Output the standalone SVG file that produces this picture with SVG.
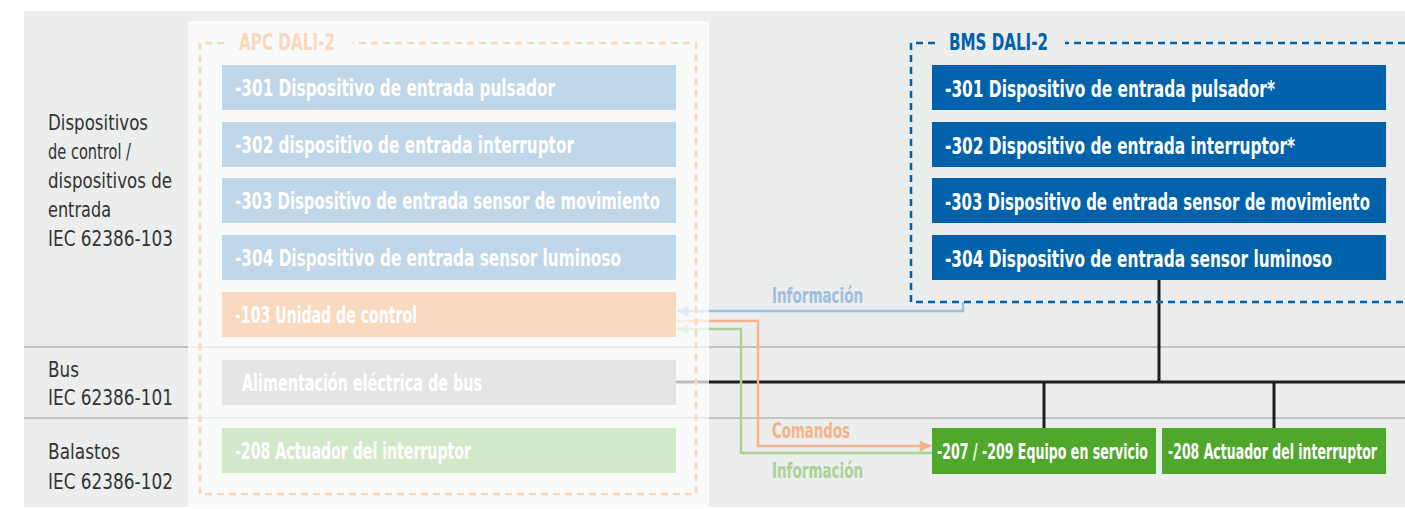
<svg xmlns="http://www.w3.org/2000/svg" width="1405" height="509" viewBox="0 0 1405 509">
<defs>
<style>
.lbl{font-family:"Liberation Sans Narrow","DejaVu Sans Condensed","Liberation Sans",sans-serif;font-stretch:condensed;font-size:21px;fill:#333333}
.bt{font-family:"Liberation Sans Narrow","DejaVu Sans Condensed","Liberation Sans",sans-serif;font-stretch:condensed;font-weight:bold;font-size:23px;fill:#ffffff}
.gt{font-family:"Liberation Sans Narrow","DejaVu Sans Condensed","Liberation Sans",sans-serif;font-stretch:condensed;font-weight:bold;font-size:21px;fill:#ffffff}
.ttl{font-family:"Liberation Sans Narrow","DejaVu Sans Condensed","Liberation Sans",sans-serif;font-stretch:condensed;font-weight:bold;font-size:23px}
.cl{font-family:"Liberation Sans Narrow","DejaVu Sans Condensed","Liberation Sans",sans-serif;font-stretch:condensed;font-weight:bold;font-size:21px}
.lb{fill:#bfd7e9}.db{fill:#0062aa}.gr{fill:#4fa82a}
.row{stroke:#b4b4b4;stroke-width:1.5}
.bus{stroke:#1e1e1e;stroke-width:3;fill:none}
</style>
<marker id="aB" viewBox="0 0 10 10" refX="10" refY="5" markerWidth="7" markerHeight="4.5" markerUnits="strokeWidth" orient="auto"><path d="M0,0 L10,5 L0,10 z" fill="#9dc0de"/></marker>
<marker id="aO" viewBox="0 0 10 10" refX="10" refY="5" markerWidth="7" markerHeight="4.5" markerUnits="strokeWidth" orient="auto"><path d="M0,0 L10,5 L0,10 z" fill="#f2b48a"/></marker>
<marker id="aG" viewBox="0 0 10 10" refX="10" refY="5" markerWidth="7" markerHeight="4.5" markerUnits="strokeWidth" orient="auto"><path d="M0,0 L10,5 L0,10 z" fill="#a8d394"/></marker>
</defs>
<rect x="0" y="0" width="1405" height="509" fill="#ffffff"/>
<rect x="24" y="11" width="1381" height="496" fill="#eceded"/>
<g id="rows">
<line class="row" x1="24" y1="347" x2="1405" y2="347"/>
<line class="row" x1="24" y1="418" x2="1405" y2="418"/>
</g>
<g id="labels">
<text class="lbl" x="48" y="130" textLength="100" lengthAdjust="spacingAndGlyphs">Dispositivos</text>
<text class="lbl" x="48" y="159" textLength="83" lengthAdjust="spacingAndGlyphs">de control /</text>
<text class="lbl" x="48" y="188" textLength="124" lengthAdjust="spacingAndGlyphs">dispositivos de</text>
<text class="lbl" x="48" y="217" textLength="63" lengthAdjust="spacingAndGlyphs">entrada</text>
<text class="lbl" x="48" y="246" textLength="125" lengthAdjust="spacingAndGlyphs">IEC 62386-103</text>
<text class="lbl" x="48" y="377" textLength="31" lengthAdjust="spacingAndGlyphs">Bus</text>
<text class="lbl" x="48" y="405" textLength="125" lengthAdjust="spacingAndGlyphs">IEC 62386-101</text>
<text class="lbl" x="48" y="459" textLength="72" lengthAdjust="spacingAndGlyphs">Balastos</text>
<text class="lbl" x="48" y="489" textLength="125" lengthAdjust="spacingAndGlyphs">IEC 62386-102</text>
</g>
<g id="connectors">
<polyline class="bus" points="676,382 1405,382"/>
<line class="bus" x1="1159" y1="280" x2="1159" y2="382"/>
<line class="bus" x1="1044" y1="382" x2="1044" y2="428"/>
<line class="bus" x1="1274" y1="382" x2="1274" y2="428"/>
<polyline points="963,302 963,311 677,311" fill="none" stroke="#9dc0de" stroke-width="2.5" marker-end="url(#aB)"/>
<polyline points="677,321 758,321 758,446 931,446" fill="none" stroke="#f2b48a" stroke-width="2.5" marker-end="url(#aO)"/>
<polyline points="932,453 741,453 741,329 677,329" fill="none" stroke="#a8d394" stroke-width="2.5" marker-end="url(#aG)"/>
<text class="cl" x="772" y="303" fill="#9dc0de" textLength="91" lengthAdjust="spacingAndGlyphs">Información</text>
<text class="cl" x="772" y="438" fill="#f2b48a" textLength="78" lengthAdjust="spacingAndGlyphs">Comandos</text>
<text class="cl" x="772" y="478" fill="#a8d394" textLength="91" lengthAdjust="spacingAndGlyphs">Información</text>
</g>
<rect x="188" y="21" width="521" height="486" fill="#ffffff" fill-opacity="0.7"/>
<g id="apc">
<path d="M224,43 H200 V494 H696 V43 H353" fill="none" stroke="#f9d9bf" stroke-width="2.5" stroke-dasharray="7,5"/>
<text class="ttl" x="239" y="50" fill="#fad8bd" textLength="96" lengthAdjust="spacingAndGlyphs">APC DALI-2</text>
</g>
<g id="apc-301"><rect class="lb" x="222" y="65" width="454" height="45"/><text class="bt" x="235" y="96" textLength="320" lengthAdjust="spacingAndGlyphs">-301 Dispositivo de entrada pulsador</text></g>
<g id="apc-302"><rect class="lb" x="222" y="122" width="454" height="45"/><text class="bt" x="235" y="153" textLength="339" lengthAdjust="spacingAndGlyphs">-302 dispositivo de entrada interruptor</text></g>
<g id="apc-303"><rect class="lb" x="222" y="178" width="454" height="45"/><text class="bt" x="235" y="209" textLength="425" lengthAdjust="spacingAndGlyphs">-303 Dispositivo de entrada sensor de movimiento</text></g>
<g id="apc-304"><rect class="lb" x="222" y="235" width="454" height="45"/><text class="bt" x="235" y="266" textLength="386" lengthAdjust="spacingAndGlyphs">-304 Dispositivo de entrada sensor luminoso</text></g>
<g id="apc-103"><rect x="222" y="292" width="454" height="45" fill="#f9d9c0"/><text class="bt" x="235" y="323" textLength="182" lengthAdjust="spacingAndGlyphs">-103 Unidad de control</text></g>
<g id="apc-bus"><rect x="222" y="360" width="454" height="45" fill="#e5e5e5"/><text class="bt" x="242" y="391" textLength="240" lengthAdjust="spacingAndGlyphs">Alimentación eléctrica de bus</text></g>
<g id="apc-208"><rect x="222" y="428" width="454" height="45" fill="#d2e9c9"/><text class="bt" x="235" y="459" textLength="236" lengthAdjust="spacingAndGlyphs">-208 Actuador del interruptor</text></g>
<g id="bms">
<path d="M935,43 H911 V302 H1405 M1405,43 H1065" fill="none" stroke="#0062ab" stroke-width="2.5" stroke-dasharray="7,5"/>
<text class="ttl" x="949" y="50" fill="#0062ab" textLength="99" lengthAdjust="spacingAndGlyphs">BMS DALI-2</text>
</g>
<g id="bms-301"><rect class="db" x="932" y="65" width="454" height="45"/><text class="bt" x="945" y="97" textLength="330" lengthAdjust="spacingAndGlyphs">-301 Dispositivo de entrada pulsador*</text></g>
<g id="bms-302"><rect class="db" x="932" y="122" width="454" height="45"/><text class="bt" x="945" y="154" textLength="350" lengthAdjust="spacingAndGlyphs">-302 Dispositivo de entrada interruptor*</text></g>
<g id="bms-303"><rect class="db" x="932" y="178" width="454" height="45"/><text class="bt" x="945" y="210" textLength="425" lengthAdjust="spacingAndGlyphs">-303 Dispositivo de entrada sensor de movimiento</text></g>
<g id="bms-304"><rect class="db" x="932" y="235" width="454" height="45"/><text class="bt" x="945" y="267" textLength="387" lengthAdjust="spacingAndGlyphs">-304 Dispositivo de entrada sensor luminoso</text></g>
<g id="ecg-207"><rect class="gr" x="932" y="428" width="224" height="46"/><text class="gt" x="937" y="459" textLength="211" lengthAdjust="spacingAndGlyphs">-207 / -209 Equipo en servicio</text></g>
<g id="ecg-208"><rect class="gr" x="1162" y="428" width="224" height="46"/><text class="gt" x="1168" y="459" textLength="209" lengthAdjust="spacingAndGlyphs">-208 Actuador del interruptor</text></g>
</svg>
